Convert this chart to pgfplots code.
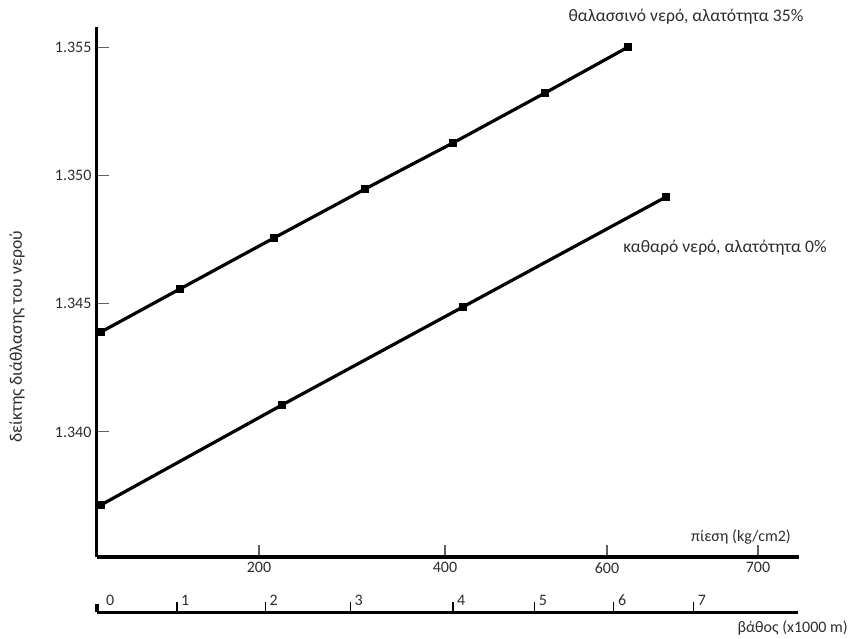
\documentclass[border=0pt]{standalone}
\usepackage{fontspec}
\setmainfont{Carlito}
\usepackage{pgfplots}
\pgfplotsset{compat=1.18}
\definecolor{txt}{RGB}{45,45,45}
\definecolor{tk}{RGB}{95,95,95}

\begin{document}
\fontsize{16bp}{19bp}\selectfont
\begin{tikzpicture}
\useasboundingbox (-97bp,-82bp) rectangle (753bp,557bp);
% main axis: x in units of the drawn scale (about 1 unit = 1000 m of depth)
\begin{axis}[
  at={(0bp,0bp)}, anchor=south west,
  scale only axis, width=702bp, height=530bp,
  xmin=0, xmax=8.2588, ymin=1.335117, ymax=1.355804,
  axis x line=bottom, axis y line=left,
  axis line style={line width=3bp, -, black},
  tick align=inside, major tick length=12bp,
  tick style={line width=1.2bp, tk},
  xtick={1.906,4.094,6.0,7.776}, xticklabels={200,400,600,700},
  ytick={1.340,1.345,1.350,1.355}, yticklabels={1.340,1.345,1.350,1.355},
  tick label style={color=txt, font=\fontsize{16bp}{19bp}\selectfont},
  clip=false,
]
\addplot[line width=3.2bp, black, mark=square*, mark size=3.4bp, mark options={line width=0.4bp, solid}]
  coordinates {(0.047,1.34390) (0.976,1.34558) (2.082,1.34757) (3.153,1.34948) (4.188,1.35128) (5.271,1.35323) (6.247,1.35502)};
\addplot[line width=3.2bp, black, mark=square*, mark size=3.4bp, mark options={line width=0.4bp, solid}]
  coordinates {(0.047,1.33715) (2.176,1.34105) (4.306,1.34488) (6.694,1.34917)};
\end{axis}
% depth axis
\begin{axis}[
  at={(0bp,-55bp)}, anchor=south west,
  scale only axis, width=701bp, height=10bp,
  xmin=0, xmax=8.247, ymin=0, ymax=1,
  axis x line=bottom, axis y line=none,
  axis line style={line width=3bp, -, black},
  tick align=inside, major tick length=10bp,
  tick style={line width=1.2bp, black},
  xtick={0.941,1.98,2.98,4.188,5.15,6.08,7.02},
  xticklabels={1,2,3,4,5,6,7},
  xticklabel style={anchor=south west, inner sep=0pt, xshift=4bp, yshift=6bp, color=txt, font=\fontsize{16bp}{19bp}\selectfont},
  extra x ticks={0}, extra x tick labels={0},
  extra x tick style={major tick length=8bp, tick style={line width=3bp, black}, xticklabel style={xshift=5bp}},
]
\addplot[draw=none] coordinates {(0,0)};
\end{axis}
\node[rotate=90, text=txt, font=\fontsize{17.6bp}{20bp}\selectfont] at (-80bp,220bp) {δείκτης διάθλασης του νερού};
\node[text=txt, font=\fontsize{17.6bp}{20bp}\selectfont] at (589bp,540bp) {θαλασσινό νερό, αλατότητα 35\%};
\node[text=txt, font=\fontsize{17.6bp}{20bp}\selectfont] at (628bp,309bp) {καθαρό νερό, αλατότητα 0\%};
\node[text=txt, anchor=east, inner sep=0pt] at (694bp,20bp) {πίεση (kg/cm2)};
\node[text=txt, anchor=base east, inner sep=0pt] at (751bp,-75bp) {βάθος (x1000 m)};
\end{tikzpicture}
\end{document}
